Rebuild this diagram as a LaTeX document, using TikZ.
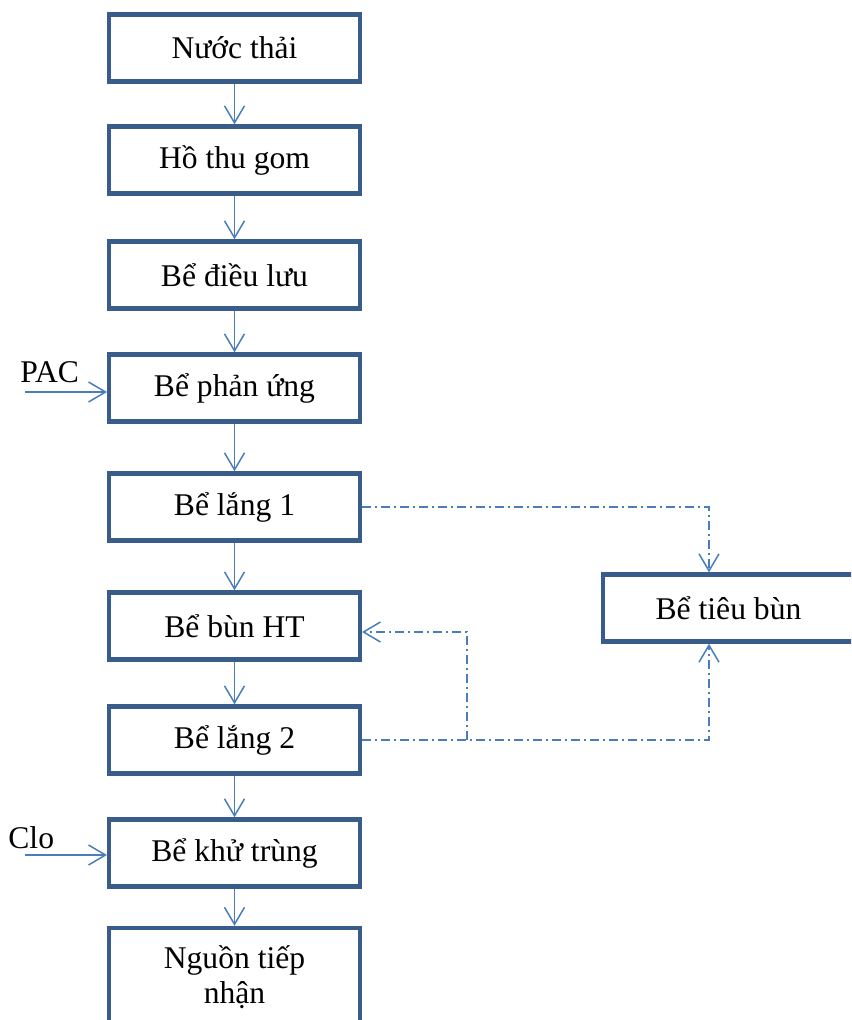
\documentclass[tikz,border=0pt]{standalone}
\usepackage{fontspec}
\setmainfont{Liberation Serif}
\usepackage{tikz}
\usetikzlibrary{arrows.meta,calc,positioning}
\definecolor{boxblue}{HTML}{385D8A}
\definecolor{lineblue}{HTML}{4A7EBB}
\tikzset{
  tank/.style={draw=boxblue, line width=2.2pt, minimum width=125.3pt, minimum height=33.5pt, inner sep=0pt, align=center, font=\fontsize{15.8}{17.5}\selectfont},
  flow/.style={draw=lineblue, line width=0.75pt, -{Straight Barb[length=8.5pt,width=10pt]}},
  sludge/.style={flow, dash pattern=on 4.5pt off 2pt on 1pt off 2pt},
  dose/.style={anchor=base west, inner sep=0pt, font=\fontsize{15.8}{17.5}\selectfont},
}

\begin{document}
\begin{tikzpicture}[x=0.5pt,y=-0.5pt]
\useasboundingbox (0,0) rectangle (851,1020);
\clip (0,0) rectangle (851,1020);
% main line
\node[tank] (nuocthai) at (234.5,48) {Nước thải};
\node[tank] (hothu) at (234.5,160) {Hồ thu gom};
\node[tank] (dieuluu) at (234.5,275) {Bể điều lưu};
\node[tank] (phanung) at (234.5,388) {Bể phản ứng};
\node[tank] (lang1) at (234.5,507) {Bể lắng 1};
\node[tank] (bunht) at (234.5,626) {Bể bùn HT};
\node[tank] (lang2) at (234.5,740) {Bể lắng 2};
\node[tank] (khutrung) at (234.5,853) {Bể khử trùng};
\node[tank, minimum height=49pt] (nguon) at (234.5,977) {Nguồn tiếp\\nhận};
\node[tank] (tieubun) at (728.5,608) {Bể tiêu bùn};
\draw[flow] (nuocthai) -- (hothu);
\draw[flow] (hothu) -- (dieuluu);
\draw[flow] (dieuluu) -- (phanung);
\draw[flow] (phanung) -- (lang1);
\draw[flow] (lang1) -- (bunht);
\draw[flow] (bunht) -- (lang2);
\draw[flow] (lang2) -- (khutrung);
\draw[flow] (khutrung) -- (nguon);
% chemicals
\node[dose] (pac) at (20,383) {PAC};
\coordinate (pacin) at (25,392);
\draw[flow] (pacin) -- (pacin -| phanung.west);
\node[dose] (clo) at (8,848) {Clo};
\coordinate (cloin) at (25,855);
\draw[flow] (cloin) -- (cloin -| khutrung.west);
% sludge
\coordinate (split) at ($(lang2.east)+(105,0)$);
\draw[sludge] (lang1.east) -| ($(tieubun.north west)+(108,0)$);
\draw[sludge] (lang2.east) -| ($(tieubun.south west)+(108,0)$);
\draw[sludge] (split) |- ($(bunht.east)+(0,6)$);
\end{tikzpicture}
\end{document}
